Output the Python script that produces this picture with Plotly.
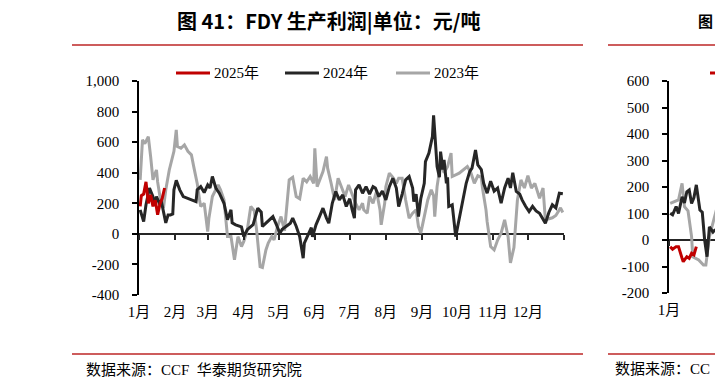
import plotly.graph_objects as go

YEAR = "2021-"
W, H = 715, 389

# ---------------- main chart data (FDY profit, 元/吨) ----------------
d25 = ["01-02", "01-03", "01-05", "01-07", "01-09", "01-11", "01-13", "01-15", "01-17", "01-19", "01-21", "01-23"]
v25 = [180, 250, 260, 340, 200, 255, 180, 220, 125, 195, 235, 300]

d24 = ["01-02", "01-05", "01-07", "01-10", "01-13", "01-14", "01-16", "01-19", "01-20", "01-22", "01-24", "01-26",
       "01-28", "01-30", "01-31", "02-02", "02-05", "02-08", "02-19", "02-20", "02-23", "02-26", "03-01", "03-03",
       "03-05", "03-08", "03-11", "03-15", "03-18", "03-21", "03-22", "03-25", "03-30", "04-01", "04-04", "04-09",
       "04-13", "04-16", "04-17", "04-20", "04-23", "04-26", "04-29", "05-02", "05-04", "05-09", "05-11", "05-13",
       "05-16", "05-19", "05-22", "05-23", "05-26", "05-29", "05-30", "06-02", "06-05", "06-08", "06-11", "06-13",
       "06-16", "06-19", "06-22", "06-25", "06-28", "07-01", "07-03", "07-05", "07-06", "07-09", "07-12", "07-15",
       "07-18", "07-21", "07-23", "07-26", "07-29", "08-01", "08-04", "08-07", "08-10", "08-12", "08-15", "08-18",
       "08-21", "08-24", "08-25", "08-27", "08-29", "08-31", "09-03", "09-04", "09-07", "09-10", "09-11", "09-13",
       "09-14", "09-16", "09-17", "09-19", "09-20", "09-22", "09-23", "09-24", "09-27", "09-30", "10-03", "10-06",
       "10-09", "10-12", "10-14", "10-17", "10-19", "10-22", "10-24", "10-27", "10-30", "11-02", "11-05", "11-08",
       "11-11", "11-14", "11-16", "11-18", "11-21", "11-24", "11-26", "11-29", "12-02", "12-05", "12-08", "12-11",
       "12-14", "12-16", "12-19", "12-22", "12-25", "12-28", "12-31"]
v24 = [157, 80, 190, 300, 244, 190, 244, 190, 220, 137, 72, 124,
       124, 130, 288, 350, 288, 244, 211, 288, 309, 270, 320, 300,
       375, 300, 266, 200, 92, 157, 72, 59, 46, -18, 28, 60,
       168, 142, 48, 70, 92, 113, 60, 4, 30, 59, 70, 103,
       50, -18, -159, -61, -10, 40, -20, 59, 113, 168, 103, 70,
       200, 277, 222, 255, 179, 230, 160, 103, 288, 320, 266, 309,
       260, 309, 300, 244, 280, 222, 309, 364, 300, 179, 260, 353,
       375, 300, 211, 260, 113, 230, 331, 473, 528, 636, 775, 549,
       440, 370, 538, 420, 484, 331, 370, 179, 190, -18, 92, 222,
       331, 407, 430, 549, 451, 420, 331, 266, 344, 280, 300, 200,
       300, 364, 300, 400, 277, 260, 222, 180, 146, 180, 150, 135,
       100, 70, 140, 190, 170, 266, 262]

d23 = ["01-02", "01-04", "01-06", "01-09", "01-11", "01-13", "01-14", "01-16", "01-17", "01-19", "01-22", "01-24",
       "01-27", "01-30", "01-31", "02-02", "02-03", "02-06", "02-09", "02-12", "02-15", "02-17", "02-19", "02-20",
       "02-22", "02-23", "02-26", "02-27", "03-01", "03-02", "03-05", "03-08", "03-10", "03-12", "03-15", "03-18",
       "03-21", "03-24", "03-27", "03-30", "04-01", "04-04", "04-07", "04-10", "04-12", "04-15", "04-17", "04-20",
       "04-22", "04-25", "04-27", "04-30", "05-03", "05-06", "05-09", "05-10", "05-13", "05-16", "05-19", "05-22",
       "05-25", "05-28", "05-31", "06-01", "06-03", "06-05", "06-08", "06-11", "06-12", "06-15", "06-18", "06-21",
       "06-24", "06-27", "06-30", "07-03", "07-06", "07-09", "07-12", "07-13", "07-16", "07-18", "07-21", "07-24",
       "07-27", "07-28", "07-31", "08-01", "08-04", "08-07", "08-10", "08-12", "08-15", "08-18", "08-21", "08-24",
       "08-27", "08-29", "08-31", "09-03", "09-06", "09-09", "09-11", "09-12", "09-14", "09-17", "09-20", "09-23",
       "09-26", "09-27", "10-03", "10-10", "10-13", "10-16", "10-19", "10-22", "10-23", "10-26", "10-27", "10-30",
       "11-02", "11-05", "11-08", "11-11", "11-14", "11-16", "11-19", "11-22", "11-25", "11-28", "12-01", "12-04",
       "12-07", "12-11", "12-14", "12-16", "12-19", "12-22", "12-25", "12-26", "12-29", "12-31"]
v23 = [353, 615, 590, 636, 505, 353, 380, 418, 340, 244, 168, 288,
       418, 505, 540, 680, 571, 560, 582, 540, 517, 440, 375, 330,
       222, 179, 200, 124, 15, 100, 244, 290, 320, 288, 222, -18,
       -18, -170, -18, -83, -50, 26, 179, 150, 26, -214, -220, -105,
       -60, -18, -40, 48, 113, 20, 266, 353, 370, 244, 230, 364,
       340, 375, 330, 560, 309, 350, 407, 505, 430, 331, 222, 364,
       300, 244, 320, 260, 200, 157, 200, 157, 135, 244, 200, 277,
       157, 59, 200, 309, 397, 370, 331, 364, 364, 222, 103, 135,
       157, 48, 5, 113, 222, 288, 250, 113, 309, 462, 400, 440,
       528, 375, 397, 440, 400, 331, 380, 370, 300, 157, 80, -83,
       -105, -40, 5, 92, -20, -190, -90, 222, 353, 300, 380, 300,
       330, 233, 300, 92, 100, 105, 120, 135, 170, 140]

month_labels = ["1月", "2月", "3月", "4月", "5月", "6月", "7月", "8月", "9月", "10月", "11月", "12月"]
y_main_ticks = [-400, -200, 0, 200, 400, 600, 800, 1000]
y_main_text = ["-400", "-200", "0", "200", "400", "600", "800", "1,000"]

# ---------------- second (cut-off) chart data ----------------
e25 = ["01-02", "01-04", "01-07", "01-09", "01-12", "01-13", "01-16", "01-18", "01-20", "01-22", "01-24"]
w25 = [-25, -35, -25, -25, -69, -82, -63, -69, -50, -56, -25]
e24 = ["01-02", "01-04", "01-07", "01-09", "01-12", "01-14", "01-16", "01-18", "01-20", "01-22", "01-24", "01-26",
       "01-27", "01-29", "01-31", "02-02", "02-04", "02-07", "02-09"]
w24 = [101, 95, 126, 100, 163, 140, 182, 189, 138, 160, 208, 150,
       113, 105, 0, -63, 50, 30, 40]
e23 = ["01-02", "01-06", "01-09", "01-12", "01-14", "01-17", "01-20", "01-21", "01-26", "01-30", "02-01", "02-04",
       "02-06", "02-09", "02-12"]
w23 = [138, 145, 151, 214, 126, 110, 13, -63, -75, -94, -94, 13,
       50, 101, 150]
y_sub_ticks = [-200, -100, 0, 100, 200, 300, 400, 500, 600]
y_sub_text = ["-200", "-100", "0", "100", "200", "300", "400", "500", "600"]

legend_names = ["2025年", "2024年", "2023年"]
colors = ["#C00000", "#262626", "#A6A6A6"]

SERIF = "Times New Roman, Liberation Serif, Noto Sans CJK SC, serif"


def dates(md):
    return [YEAR + m for m in md]


def px(x):
    return x / W


def py(y):
    return 1 - y / H


LW = 3
fig = go.Figure()
main_series = [(d25, v25), (d24, v24), (d23, v23)]
sub_series = [(e25, w25), (e24, w24), (e23, w23)]
for i in [2, 1, 0]:
    md, v = main_series[i]
    fig.add_trace(go.Scatter(x=dates(md), y=v, mode="lines", name=legend_names[i],
                             line=dict(color=colors[i], width=LW), xaxis="x", yaxis="y",
                             showlegend=False, hoverinfo="skip"))
for i in [2, 1, 0]:
    md, v = sub_series[i]
    fig.add_trace(go.Scatter(x=dates(md), y=v, mode="lines", name=legend_names[i],
                             line=dict(color=colors[i], width=LW), xaxis="x2", yaxis="y2",
                             showlegend=False, hoverinfo="skip"))

# invisible traces so the overlay (tick-only) axes exist
fig.add_trace(go.Scatter(x=[YEAR + "01-01"], y=[None], xaxis="x3", yaxis="y", showlegend=False, hoverinfo="skip"))
fig.add_trace(go.Scatter(x=[YEAR + "01-01"], y=[None], xaxis="x4", yaxis="y2", showlegend=False, hoverinfo="skip"))

month_starts = [YEAR + "%02d-01" % m for m in range(1, 13)]
tick_font = dict(family=SERIF, size=15, color="#000000")

fig.update_layout(
    width=W, height=H, margin=dict(l=0, r=0, t=0, b=0, autoexpand=False),
    plot_bgcolor="white", paper_bgcolor="white",
    xaxis=dict(domain=[px(139), px(564)], range=[YEAR + "01-01", "2022-01-01"], type="date",
               tickvals=month_starts, ticktext=month_labels, ticks="", showline=False, automargin=False,
               showgrid=False, zeroline=False, anchor="y", tickfont=tick_font, ticklabelstandoff=6),
    xaxis3=dict(overlaying="x", range=[YEAR + "01-01", "2022-01-01"], type="date", anchor="free",
                position=py(234), ticks="outside", ticklen=5, tickwidth=1.5, tickcolor="#262626",
                tickvals=month_starts + ["2022-01-01"], showticklabels=False, showline=False,
                showgrid=False, zeroline=False, automargin=False),
    yaxis=dict(domain=[py(295), py(81)], range=[-400, 1000], tickvals=y_main_ticks, ticktext=y_main_text,
               ticks="outside", ticklen=5, tickwidth=1.5, tickcolor="#000000", showline=True,
               linecolor="#000000", linewidth=1.5, zeroline=True, zerolinecolor="#262626",
               zerolinewidth=1.8, showgrid=False, anchor="x", tickfont=tick_font, ticklabelstandoff=10,
               automargin=False),
    xaxis2=dict(domain=[px(669), 1], range=[YEAR + "01-01", YEAR + "02-08 17:00"], type="date",
                tickvals=month_starts[:2], ticktext=month_labels[:2], ticks="", showline=False,
                showgrid=False, zeroline=False, anchor="y2", tickfont=tick_font, ticklabelstandoff=6,
                automargin=False),
    xaxis4=dict(overlaying="x2", range=[YEAR + "01-01", YEAR + "02-08 17:00"], type="date", anchor="free",
                position=py(240), ticks="outside", ticklen=5, tickwidth=1.5, tickcolor="#262626",
                tickvals=month_starts[:2], showticklabels=False, showline=False,
                showgrid=False, zeroline=False, automargin=False),
    yaxis2=dict(domain=[py(293), py(81)], range=[-200, 600], tickvals=y_sub_ticks, ticktext=y_sub_text,
                ticks="outside", ticklen=5, tickwidth=1.5, tickcolor="#000000", showline=True,
                linecolor="#000000", linewidth=1.5, zeroline=True, zerolinecolor="#262626",
                zerolinewidth=1.8, showgrid=False, anchor="x2", tickfont=tick_font, ticklabelstandoff=10,
                automargin=False),
)

RULE = "#CD5C5C"
shapes = []
for y in (45, 354):
    shapes.append(dict(type="line", xref="paper", yref="paper", x0=px(72), x1=px(583), y0=py(y), y1=py(y),
                       line=dict(color=RULE, width=2)))
    shapes.append(dict(type="line", xref="paper", yref="paper", x0=px(608), x1=1.0, y0=py(y), y1=py(y),
                       line=dict(color=RULE, width=2)))

annotations = []
# main legend
leg_x = [176, 285, 396]
for i in range(3):
    shapes.append(dict(type="line", xref="paper", yref="paper", x0=px(leg_x[i]), x1=px(leg_x[i] + 34),
                       y0=py(73), y1=py(73), line=dict(color=colors[i], width=3)))
    annotations.append(dict(xref="paper", yref="paper", x=px(leg_x[i] + 36), y=py(73), xanchor="left",
                            yanchor="middle", showarrow=False, text=legend_names[i],
                            font=dict(family=SERIF, size=15, color="#000000")))
# sub legend (cut off by the page edge)
shapes.append(dict(type="line", xref="paper", yref="paper", x0=px(710), x1=1.0,
                   y0=py(73), y1=py(73), line=dict(color=colors[0], width=3)))

annotations.append(dict(xref="paper", yref="paper", x=px(328), y=py(21), xanchor="center", yanchor="middle",
                        showarrow=False, text="<b>图 41：FDY 生产利润|单位：元/吨</b>",
                        font=dict(family="Noto Sans CJK SC", size=20, color="#000000")))
annotations.append(dict(xref="paper", yref="paper", x=1.0, y=py(21), xanchor="right", yanchor="middle",
                        showarrow=False, text="<b>图</b>",
                        font=dict(family="Noto Sans CJK SC", size=15, color="#000000")))
annotations.append(dict(xref="paper", yref="paper", x=px(84), y=py(369), xanchor="left", yanchor="middle",
                        showarrow=False, text="数据来源：CCF  华泰期货研究院",
                        font=dict(family=SERIF, size=15, color="#000000")))
annotations.append(dict(xref="paper", yref="paper", x=px(712), y=py(369), xanchor="right", yanchor="middle",
                        showarrow=False, text="数据来源：CC",
                        font=dict(family=SERIF, size=15, color="#000000")))

fig.update_layout(shapes=shapes, annotations=annotations)
fig.write_html("out.html", config={"displayModeBar": False},
               post_script="document.body.style.margin='0';document.body.style.overflow='hidden';")
